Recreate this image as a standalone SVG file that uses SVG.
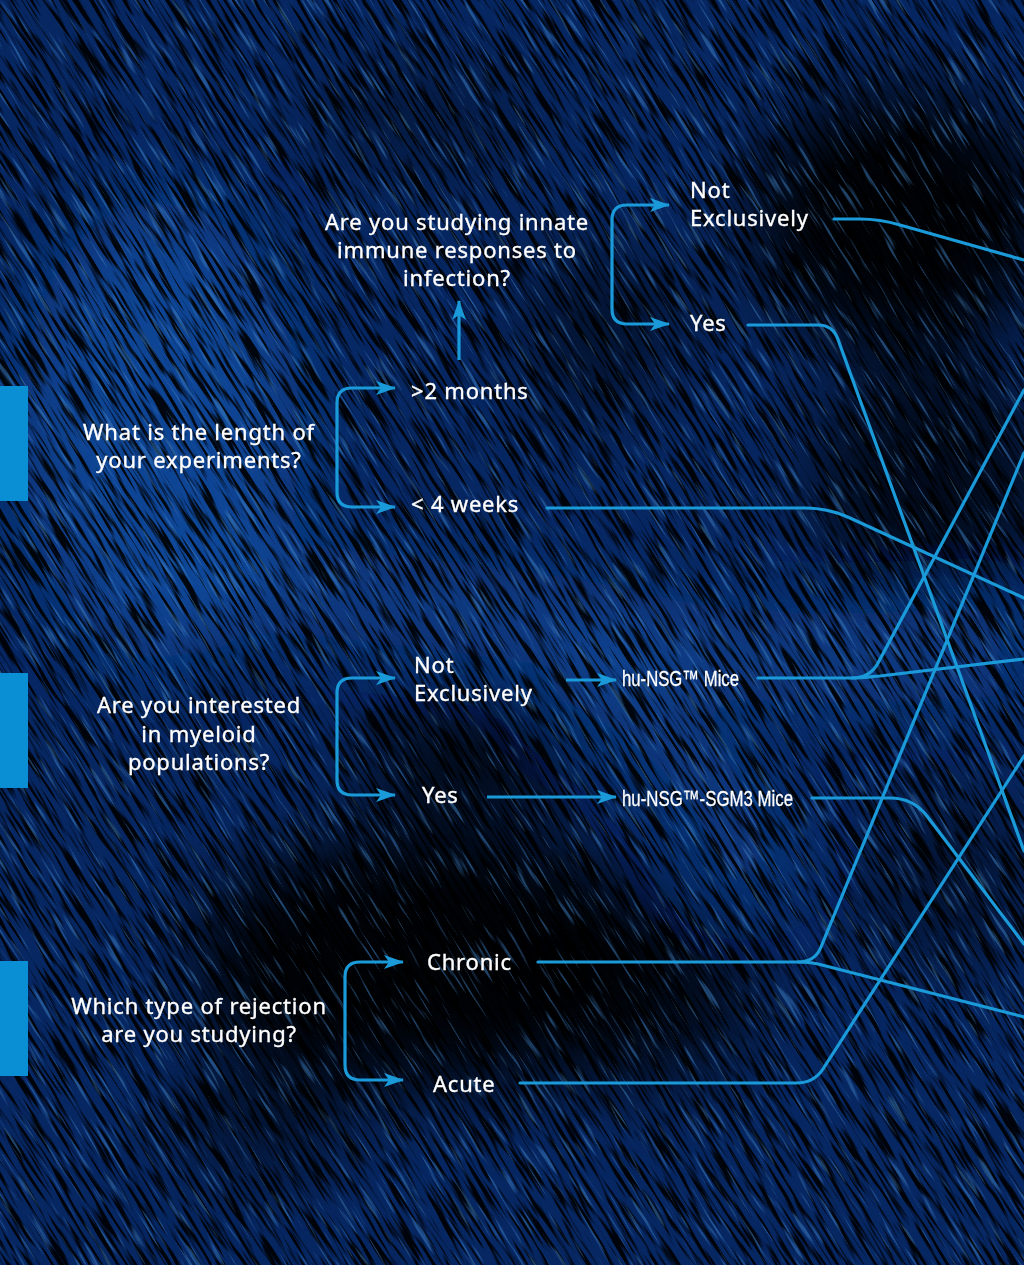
<svg xmlns="http://www.w3.org/2000/svg" width="1024" height="1265" viewBox="0 0 1024 1265">
<defs>
<style>
.q{font-family:"Noto Sans","DejaVu Sans",sans-serif;font-size:22px;fill:#ffffff;stroke:#ffffff;stroke-width:0.35px;letter-spacing:0.8px}
.a{font-family:"Noto Sans","DejaVu Sans",sans-serif;font-size:22px;fill:#ffffff;stroke:#ffffff;stroke-width:0.35px;letter-spacing:0.8px}
.m{font-family:"Liberation Sans",Arial,sans-serif;font-size:22px;fill:#ffffff;stroke:#ffffff;stroke-width:0.3px}
.ln{fill:none;stroke:#1b9ad9;stroke-width:3.2;stroke-linecap:round;stroke-linejoin:round}
.ar{fill:none;stroke:#1b9ad9;stroke-width:3.2;stroke-linejoin:round;marker-end:url(#ah)}
.bar{fill:#0a8fd5}
</style>
<marker id="ah" markerUnits="userSpaceOnUse" viewBox="0 0 20 14" refX="19" refY="7" markerWidth="20" markerHeight="14" orient="auto">
<path d="M0,0 L20,7 L0,14 L5,7 z" fill="#1b9ad9"/>
</marker>
<filter id="blur40" x="-50%" y="-50%" width="200%" height="200%"><feGaussianBlur stdDeviation="40"/></filter>
<filter id="streaks" filterUnits="userSpaceOnUse" x="-800" y="-800" width="2800" height="2800">
<feTurbulence type="fractalNoise" baseFrequency="0.018 0.28" numOctaves="2" seed="7" result="n"/>
<feColorMatrix in="n" type="matrix" values="0 0 0 0 0  0 0 0 0 0  0 0 0 0 0  7 0 0 0 -3.4"/>
</filter>
<filter id="streaks2" filterUnits="userSpaceOnUse" x="-800" y="-800" width="2800" height="2800">
<feTurbulence type="fractalNoise" baseFrequency="0.02 0.3" numOctaves="2" seed="21" result="n"/>
<feColorMatrix in="n" type="matrix" values="0 0 0 0 0.05  0 0 0 0 0.22  0 0 0 0 0.55  7 0 0 0 -4.2"/>
</filter>
</defs>

<g id="background">
<rect width="1024" height="1265" fill="#072763"/>
<g filter="url(#blur40)">
<ellipse cx="160" cy="430" rx="140" ry="230" fill="#1552aa" opacity="0.7"/>
<path d="M200,570 C320,600 480,600 640,640 C760,665 880,660 1024,650" stroke="#1a5cb8" stroke-width="45" fill="none" opacity="0.75"/>
<path d="M560,660 C650,700 720,780 760,880" stroke="#1655ad" stroke-width="60" fill="none" opacity="0.6"/>
<ellipse cx="900" cy="220" rx="150" ry="130" fill="#000000" opacity="0.95"/>
<ellipse cx="930" cy="480" rx="120" ry="120" fill="#000000" opacity="0.7"/>
<ellipse cx="430" cy="960" rx="240" ry="130" fill="#000000" opacity="0.95"/>
<ellipse cx="470" cy="760" rx="110" ry="50" fill="#000000" opacity="0.85"/>
<ellipse cx="260" cy="1120" rx="90" ry="60" fill="#000000" opacity="0.5"/>
<ellipse cx="640" cy="1000" rx="120" ry="90" fill="#000000" opacity="0.7"/>
<ellipse cx="950" cy="880" rx="90" ry="90" fill="#000000" opacity="0.45"/>
<ellipse cx="600" cy="330" rx="80" ry="90" fill="#000000" opacity="0.5"/>
<ellipse cx="420" cy="120" rx="110" ry="60" fill="#000000" opacity="0.35"/>
</g>
<g transform="rotate(58 512 632)">
<rect x="-600" y="-600" width="2400" height="2400" fill="#000" filter="url(#streaks)" opacity="0.9"/>
<rect x="-600" y="-600" width="2400" height="2400" fill="#000" filter="url(#streaks2)" opacity="0.5"/>
</g>
</g>

<g id="connectors">
<path class="ar" d="M337,447 V403 Q337,388 352,388 H395"/>
<path class="ar" d="M337,447 V492 Q337,507 352,507 H395"/>
<path class="ar" d="M459,360 V301"/>
<path class="ar" d="M612,265 V220 Q612,205 627,205 H669"/>
<path class="ar" d="M612,265 V309 Q612,324 627,324 H669"/>
<path class="ar" d="M337,737 V693 Q337,678 352,678 H395"/>
<path class="ar" d="M337,737 V780 Q337,795 352,795 H395"/>
<path class="ar" d="M566,680 H616"/>
<path class="ar" d="M487,797 H616"/>
<path class="ar" d="M345,1021 V977 Q345,962 360,962 H403"/>
<path class="ar" d="M345,1021 V1065 Q345,1080 360,1080 H403"/>
<path class="ln" d="M834,219 H860 Q880,219 900,225 L1024,260"/>
<path class="ln" d="M748,325 H818 Q833,325 838,339.5 L1024,851"/>
<path class="ln" d="M547,508 H805 Q828,508 850,518 L1024,598"/>
<path class="ln" d="M758,678 H852 Q870,678 878,663 L1024,390"/>
<path class="ln" d="M852,678 C862,678 868,677 880,676 L1024,659"/>
<path class="ln" d="M812,798 H890 Q913,798 927,816 L1024,944"/>
<path class="ln" d="M538,962 H798 Q815,962 821,947 L1024,453"/>
<path class="ln" d="M798,962 Q812,962 822,965 L1024,1017"/>
<path class="ln" d="M520,1083 H796 Q814,1083 823,1069 L1024,756"/>
</g>

<g id="q-length">
<rect class="bar" x="0" y="386" width="28" height="115"/>
<text class="q" text-anchor="middle" x="199" y="440">What is the length of</text>
<text class="q" text-anchor="middle" x="199" y="468">your experiments?</text>
</g>
<g id="a-2months"><text class="a" x="411" y="399">&gt;2 months</text></g>
<g id="a-4weeks"><text class="a" x="411" y="512">&lt; 4 weeks</text></g>
<g id="q-innate">
<text class="q" text-anchor="middle" x="457" y="230">Are you studying innate</text>
<text class="q" text-anchor="middle" x="457" y="258">immune responses to</text>
<text class="q" text-anchor="middle" x="457" y="286">infection?</text>
</g>
<g id="a-innate-not"><text class="a" x="690" y="198">Not</text><text class="a" x="690" y="226">Exclusively</text></g>
<g id="a-innate-yes"><text class="a" x="690" y="331">Yes</text></g>

<g id="q-myeloid">
<rect class="bar" x="0" y="673" width="28" height="115"/>
<text class="q" text-anchor="middle" x="199" y="713">Are you interested</text>
<text class="q" text-anchor="middle" x="199" y="742">in myeloid</text>
<text class="q" text-anchor="middle" x="199" y="770">populations?</text>
</g>
<g id="a-myeloid-not"><text class="a" x="414" y="673">Not</text><text class="a" x="414" y="701">Exclusively</text></g>
<g id="a-myeloid-yes"><text class="a" x="422" y="803">Yes</text></g>
<g id="r-husng"><text class="m" x="622" y="686" textLength="117" lengthAdjust="spacingAndGlyphs">hu-NSG™ Mice</text></g>
<g id="r-husgm3"><text class="m" x="622" y="806" textLength="171" lengthAdjust="spacingAndGlyphs">hu-NSG™-SGM3 Mice</text></g>

<g id="q-rejection">
<rect class="bar" x="0" y="961" width="28" height="115"/>
<text class="q" text-anchor="middle" x="199" y="1014">Which type of rejection</text>
<text class="q" text-anchor="middle" x="199" y="1042">are you studying?</text>
</g>
<g id="a-chronic"><text class="a" x="427" y="970">Chronic</text></g>
<g id="a-acute"><text class="a" x="433" y="1092">Acute</text></g>
</svg>
